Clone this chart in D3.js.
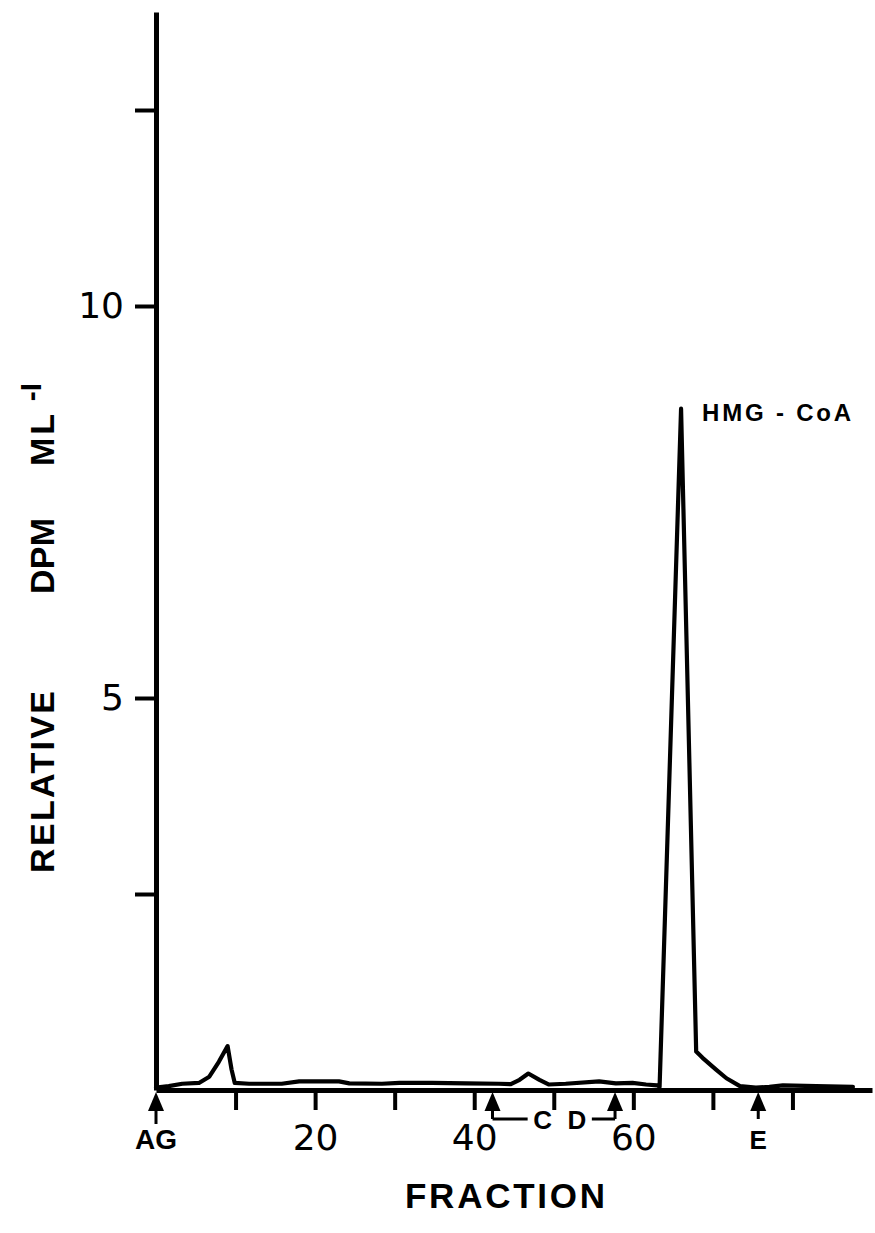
<!DOCTYPE html>
<html>
<head>
<meta charset="utf-8">
<script src="https://cdn.jsdelivr.net/npm/d3@7"></script>
<style>
  body { margin: 0; background: #fff; }
  svg { display: block; }
  .lbl { font-family: "Liberation Sans", Arial, sans-serif; font-weight: bold; fill: #000; }
</style>
</head>
<body>
<div id="chart"></div>
<script>
// fraction number vs relative dpm/ml
const fractions = [0, 1.6, 3.3, 5.4, 6.7, 7.9, 9.0, 9.5, 9.9, 11.7, 15.8, 18.0, 20.9, 23.0, 24.3,
  28.4, 30.6, 34.7, 39.0, 43.1, 44.6, 45.7, 46.8, 48.2, 49.4, 51.5, 55.7, 57.8, 59.9, 61.6,
  63.0, 63.3, 66.0, 67.9, 68.7, 70.4, 71.7, 73.4, 75.4, 77.1, 78.8, 83.0, 87.6];
const dpm = [0.03, 0.05, 0.08, 0.09, 0.17, 0.36, 0.56, 0.26, 0.09, 0.08, 0.08, 0.11, 0.11, 0.11, 0.085,
  0.08, 0.09, 0.09, 0.085, 0.08, 0.075, 0.13, 0.21, 0.13, 0.07, 0.08, 0.11, 0.085, 0.09, 0.07,
  0.06, 0.04, 8.69, 0.49, 0.41, 0.26, 0.15, 0.05, 0.03, 0.04, 0.06, 0.05, 0.04];

const xTicks = [10, 20, 30, 40, 50, 60, 70, 80];
const xTickLabels = ["", "20", "", "40", "", "60", "", ""];
const yTicks = [2.5, 5, 10, 12.5];
const yTickLabels = ["", "5", "10", ""];

// elution arrows under the axis
const arrowFractions = [0, 42.3, 57.7, 75.7];
const arrowLabels = ["AG", "", "", "E"];
const bracketLabels = ["C", "D"];
const bracketFractions = [48.6, 52.9];
const peakLabel = "HMG - CoA";

const width = 875, height = 1233;

const svg = d3.select("#chart").append("svg")
  .attr("width", width)
  .attr("height", height);

const x = d3.scaleLinear().domain([0, 90]).range([156, 872]);
const y = d3.scaleLinear().domain([0, 13.75]).range([1090, 12]);

// x axis
const xAxis = svg.append("g")
  .attr("transform", `translate(0,${y(0)})`)
  .call(d3.axisBottom(x)
    .tickValues(xTicks)
    .tickSize(20)
    .tickSizeOuter(0)
    .tickPadding(14)
    .tickFormat((d, i) => xTickLabels[i]));

// y axis
const yAxis = svg.append("g")
  .attr("transform", `translate(${x(0)},0)`)
  .call(d3.axisLeft(y)
    .tickValues(yTicks)
    .tickSize(21)
    .tickSizeOuter(0)
    .tickPadding(11)
    .tickFormat((d, i) => yTickLabels[i]));

[xAxis, yAxis].forEach(g => {
  g.select(".domain").attr("stroke", "#000").attr("stroke-width", 5);
  g.selectAll(".tick line").attr("stroke", "#000").attr("stroke-width", 4);
  g.selectAll(".tick text")
    .attr("fill", "#000")
    .style("font-family", "'DejaVu Sans', sans-serif")
    .style("font-size", "36px");
});

// the trace
const line = d3.line()
  .x((d, i) => x(fractions[i]))
  .y(d => y(d));

svg.append("path")
  .datum(dpm)
  .attr("fill", "none")
  .attr("stroke", "#000")
  .attr("stroke-width", 4.2)
  .attr("stroke-linejoin", "round")
  .attr("stroke-linecap", "round")
  .attr("d", line);

// peak label
const peakIdx = dpm.indexOf(d3.max(dpm));
svg.append("text")
  .attr("class", "lbl")
  .attr("x", x(fractions[peakIdx]) + 21)
  .attr("y", y(dpm[peakIdx]) + 12)
  .attr("textLength", 149)
  .attr("lengthAdjust", "spacing")
  .style("font-size", "24px")
  .text(peakLabel);

// arrows
const tipY = y(0) + 2, headH = 19, headW = 8, shaftEnd = 1119;
const arrows = svg.append("g");
arrowFractions.forEach((f, i) => {
  const ax = x(f);
  arrows.append("line")
    .attr("x1", ax).attr("x2", ax)
    .attr("y1", tipY + headH - 2).attr("y2", i === 0 ? 1124 : shaftEnd)
    .attr("stroke", "#000").attr("stroke-width", 3);
  arrows.append("path")
    .attr("d", `M${ax},${tipY} L${ax - headW},${tipY + headH} L${ax + headW},${tipY + headH} Z`)
    .attr("fill", "#000");
  if (arrowLabels[i]) {
    arrows.append("text")
      .attr("class", "lbl")
      .attr("x", ax)
      .attr("y", 1149)
      .attr("text-anchor", "middle")
      .style("font-size", i === 0 ? "28px" : "26px")
      .text(arrowLabels[i]);
  }
});

// C / D bracket between the two middle arrows
const bx1 = x(arrowFractions[1]), bx2 = x(arrowFractions[2]);
arrows.append("path")
  .attr("d", `M${bx1},${shaftEnd} H${x(bracketFractions[0]) - 15} M${x(bracketFractions[1]) + 15},${shaftEnd} H${bx2}`)
  .attr("fill", "none").attr("stroke", "#000").attr("stroke-width", 3);
bracketLabels.forEach((t, i) => {
  arrows.append("text")
    .attr("class", "lbl")
    .attr("x", x(bracketFractions[i]))
    .attr("y", 1129)
    .attr("text-anchor", "middle")
    .style("font-size", "26px")
    .text(t);
});

// axis titles
svg.append("text")
  .attr("class", "lbl")
  .attr("x", 405)
  .attr("y", 1208)
  .attr("textLength", 200)
  .attr("lengthAdjust", "spacing")
  .style("font-size", "35px")
  .text("FRACTION");

const yTitle = [
  { t: "RELATIVE", c: 782, len: 182 },
  { t: "DPM", c: 556, len: 76 },
  { t: "ML", c: 440, len: 52 }
];
yTitle.forEach(d => {
  svg.append("text")
    .attr("class", "lbl")
    .attr("transform", `translate(54,${d.c}) rotate(-90)`)
    .attr("x", -d.len / 2)
    .attr("textLength", d.len)
    .attr("lengthAdjust", "spacing")
    .style("font-size", "34px")
    .text(d.t);
});
svg.append("text")
  .attr("class", "lbl")
  .attr("transform", `translate(41,392) rotate(-90)`)
  .attr("text-anchor", "middle")
  .style("font-size", "30px")
  .text("-I");
</script>
</body>
</html>
